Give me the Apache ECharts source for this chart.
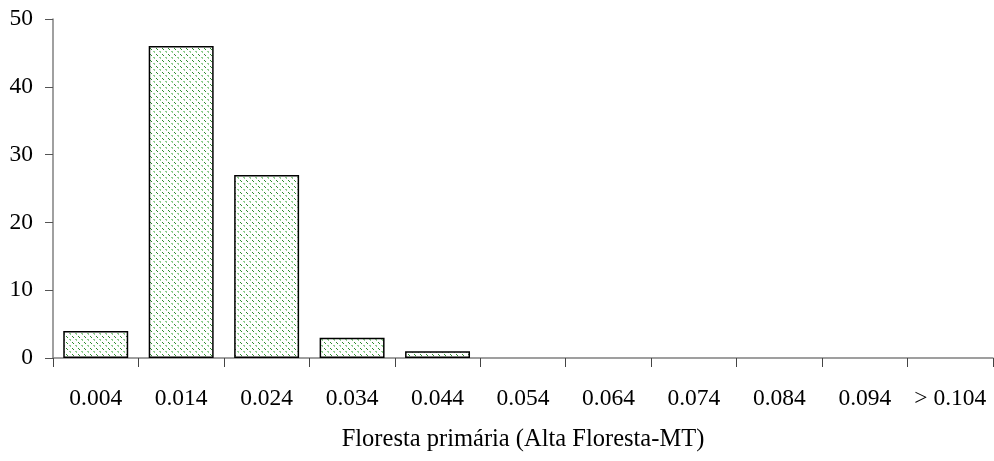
<!DOCTYPE html>
<html><head><meta charset="utf-8">
<script src="https://cdn.jsdelivr.net/npm/echarts@6/dist/echarts.min.js"></script>
<style>html,body{margin:0;padding:0;background:#fff}#c{width:994px;height:461px}</style>
</head><body><div id="c"></div>
<script>
const categories = ['0.004','0.014','0.024','0.034','0.044','0.054','0.064','0.074','0.084','0.094','> 0.104'];
const values = [4,46,27,3,1,0,0,0,0,0,0];
const yTicks = [0,10,20,30,40,50];
const xTitle = 'Floresta primária (Alta Floresta-MT)';

const pc = document.createElement('canvas');
pc.width = 6; pc.height = 6;
const g = pc.getContext('2d');
g.fillStyle = '#ffffff'; g.fillRect(0,0,6,6);
g.fillStyle = '#2e8b2e'; g.fillRect(0,0,1,1); g.fillRect(1,1,1,1);
g.fillStyle = '#8fcf8f'; g.fillRect(3,3,1,1); g.fillRect(4,3,1,1); g.fillRect(4,4,1,1);

const chart = echarts.init(document.getElementById('c'));
chart.setOption({
  animation:false,
  grid:{left:53,right:1,top:19,bottom:103,containLabel:false},
  xAxis:{type:'category',data:categories,
    axisLine:{lineStyle:{color:'#808080',width:1.5}},
    axisTick:{show:true,alignWithLabel:false,length:9,lineStyle:{color:'#444'}},
    axisLabel:{color:'#000',fontFamily:'Liberation Serif',fontSize:23.5,margin:29,interval:0},
    name:xTitle,nameLocation:'middle',nameGap:82,
    nameTextStyle:{color:'#000',fontFamily:'Liberation Serif',fontSize:24.5,verticalAlign:'middle'}},
  yAxis:{type:'value',min:0,max:50,interval:10,
    axisLine:{show:true,lineStyle:{color:'#808080',width:1.5}},
    axisTick:{show:true,length:8,lineStyle:{color:'#555'}},
    splitLine:{show:false},
    axisLabel:{color:'#000',fontFamily:'Liberation Serif',fontSize:23.5,margin:20,
      formatter:v=>yTicks.includes(v)?String(v):''}},
  series:[{type:'bar',barCategoryGap:'24%',
    data:values.map(v=>({value:v,itemStyle:v===0?{borderWidth:0,opacity:0}:{}})),
    itemStyle:{color:{image:pc,repeat:'repeat'},borderColor:'#000',borderWidth:1.5}}]
});
</script></body></html>
